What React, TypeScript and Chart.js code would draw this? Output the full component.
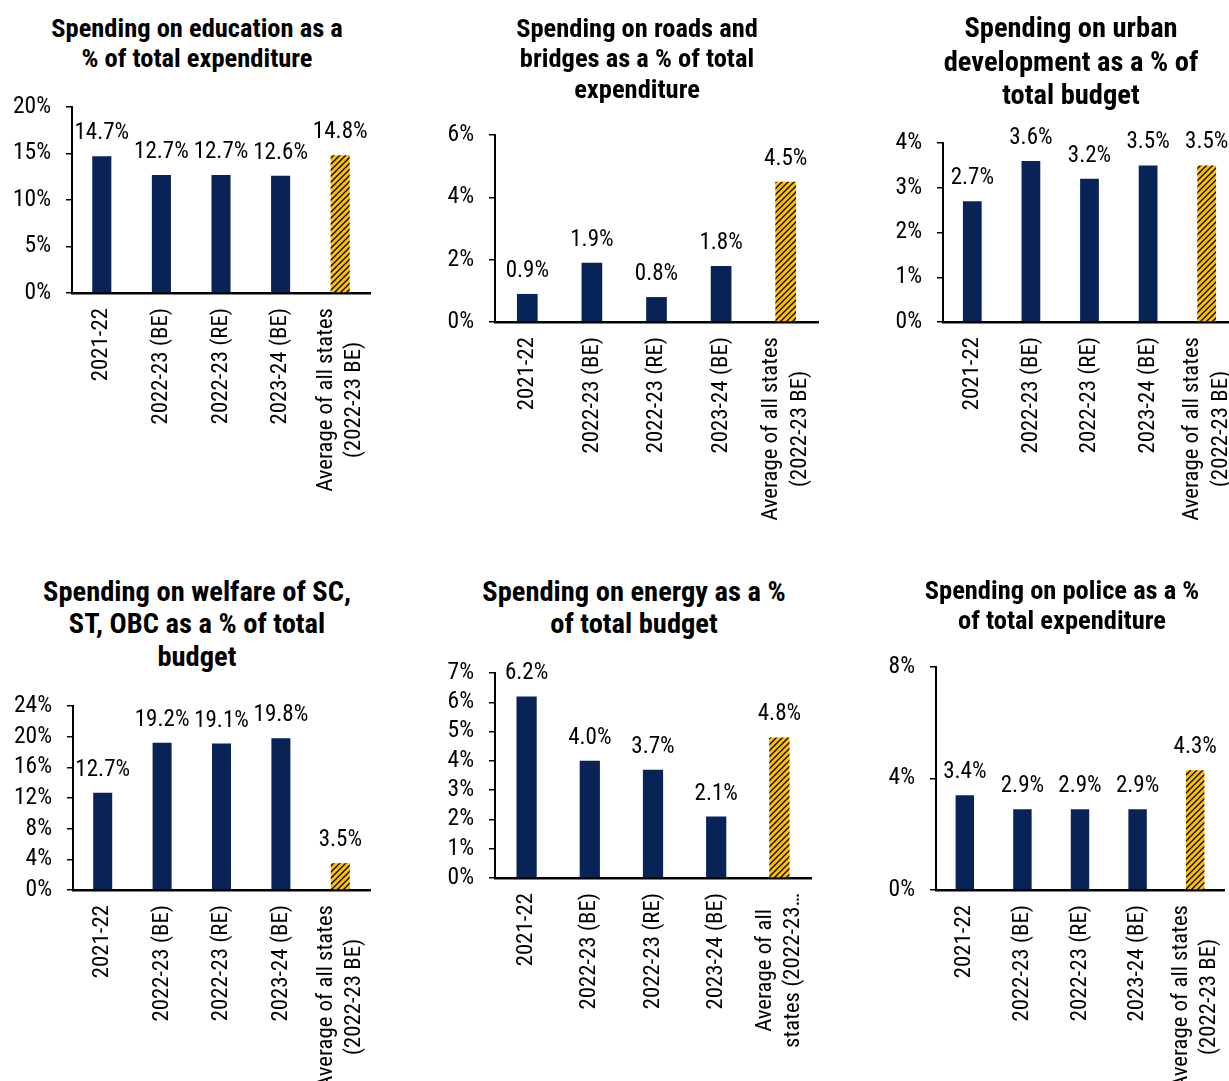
import React, { useEffect, useRef } from 'react';
import { Chart, registerables } from 'chart.js';

Chart.register(...registerables);

// ---------- data ----------
const categories: (string | string[])[] = ['2021-22', '2022-23 (BE)', '2022-23 (RE)', '2023-24 (BE)', ['Average of all states', '(2022-23 BE)']];
const categoriesEnergy: (string | string[])[] = ['2021-22', '2022-23 (BE)', '2022-23 (RE)', '2023-24 (BE)', ['Average of all', 'states (2022-23…']];

const educationValues = [14.7, 12.7, 12.7, 12.6, 14.8];
const roadsValues = [0.9, 1.9, 0.8, 1.8, 4.5];
const urbanValues = [2.7, 3.6, 3.2, 3.5, 3.5];
const welfareValues = [12.7, 19.2, 19.1, 19.8, 3.5];
const energyValues = [6.2, 4.0, 3.7, 2.1, 4.8];
const policeValues = [3.4, 2.9, 2.9, 2.9, 4.3];

const educationTicks = [0, 5, 10, 15, 20];
const roadsTicks = [0, 2, 4, 6];
const urbanTicks = [0, 1, 2, 3, 4];
const welfareTicks = [0, 4, 8, 12, 16, 20, 24];
const energyTicks = [0, 1, 2, 3, 4, 5, 6, 7];
const policeTicks = [0, 4, 8];

const educationTitle = ['Spending on education as a', '% of total expenditure'];
const roadsTitle = ['Spending on roads and', 'bridges as a % of total', 'expenditure'];
const urbanTitle = ['Spending on urban', 'development as a % of', 'total budget'];
const welfareTitle = ['Spending on welfare of SC,', 'ST, OBC as a % of total', 'budget'];
const energyTitle = ['Spending on energy as a %', 'of total budget'];
const policeTitle = ['Spending on police as a %', 'of total expenditure'];

// ---------- styling / layout ----------
const FONT = "'Roboto Condensed', 'Liberation Sans Narrow', 'Arial Narrow', sans-serif";
const NAVY = '#082456';
const GOLD = '#FFC000';
const X_LABEL_SIZE = 22.8;
const X_LABEL_LINE = 28.5;
const X_LABEL_GAP = 15;

type PanelCfg = {
  title: string[];
  titleSize: number;
  titleLine: number;
  titleCX: number;
  titleY: number;
  axisX: number;
  axisR: number;
  yTop: number;
  yBot: number;
  values: number[];
  ticks: number[];
  cats: (string | string[])[];
};

const panels: PanelCfg[] = [
  { title: educationTitle, titleSize: 26.5, titleLine: 30, titleCX: 197, titleY: 28, axisX: 72, axisR: 370, yTop: 107, yBot: 293, values: educationValues, ticks: educationTicks, cats: categories },
  { title: roadsTitle, titleSize: 26.5, titleLine: 30.5, titleCX: 637, titleY: 28, axisX: 495, axisR: 818, yTop: 135, yBot: 322, values: roadsValues, ticks: roadsTicks, cats: categories },
  { title: urbanTitle, titleSize: 28.5, titleLine: 33.5, titleCX: 1071, titleY: 28, axisX: 943, axisR: 1236, yTop: 143, yBot: 322, values: urbanValues, ticks: urbanTicks, cats: categories },
  { title: welfareTitle, titleSize: 28.5, titleLine: 32.5, titleCX: 197, titleY: 592, axisX: 73, axisR: 370, yTop: 706, yBot: 890, values: welfareValues, ticks: welfareTicks, cats: categories },
  { title: energyTitle, titleSize: 28.5, titleLine: 31.5, titleCX: 634, titleY: 592, axisX: 495, axisR: 811, yTop: 673, yBot: 878, values: energyValues, ticks: energyTicks, cats: categoriesEnergy },
  { title: policeTitle, titleSize: 26.5, titleLine: 30, titleCX: 1062, titleY: 590, axisX: 936, axisR: 1224, yTop: 667, yBot: 890, values: policeValues, ticks: policeTicks, cats: categories },
];

function makePattern(): CanvasPattern | string {
  const c = document.createElement('canvas');
  c.width = 6;
  c.height = 6;
  const g = c.getContext('2d');
  if (!g) return GOLD;
  g.fillStyle = GOLD;
  g.fillRect(0, 0, 6, 6);
  g.strokeStyle = '#000';
  g.lineWidth = 1.3;
  g.beginPath();
  g.moveTo(-1, 7);
  g.lineTo(7, -1);
  g.moveTo(-1, 1);
  g.lineTo(1, -1);
  g.moveTo(5, 7);
  g.lineTo(7, 5);
  g.stroke();
  return g.createPattern(c, 'repeat') || GOLD;
}

// value labels above each bar
const labelPlugin = {
  id: 'barLabels',
  afterDatasetsDraw(chart: any) {
    const ctx = chart.ctx as CanvasRenderingContext2D;
    const meta = chart.getDatasetMeta(0);
    const ds = chart.data.datasets[0];
    ctx.save();
    ctx.font = `23px ${FONT}`;
    ctx.fillStyle = '#000';
    ctx.textAlign = 'center';
    ctx.textBaseline = 'alphabetic';
    meta.data.forEach((el: any, i: number) => {
      ctx.fillText(Number(ds.data[i]).toFixed(1) + '%', el.x, el.y - 17);
    });
    ctx.restore();
  },
};

// rotated category labels; multi-line labels centred on their tick, lines centre-aligned
const xLabelPlugin = {
  id: 'xLabels',
  afterDraw(chart: any) {
    const s = chart.scales.x;
    const ctx = chart.ctx as CanvasRenderingContext2D;
    ctx.save();
    ctx.font = `${X_LABEL_SIZE}px ${FONT}`;
    ctx.fillStyle = '#000';
    ctx.textAlign = 'center';
    ctx.textBaseline = 'middle';
    (chart.data.labels as any[]).forEach((lab, i) => {
      const lines: string[] = Array.isArray(lab) ? lab : [lab];
      const maxW = Math.max(...lines.map((ln) => ctx.measureText(ln).width));
      const x = s.getPixelForTick(i);
      const y = s.top + X_LABEL_GAP;
      lines.forEach((ln, j) => {
        const off = (j - (lines.length - 1) / 2) * X_LABEL_LINE;
        ctx.save();
        ctx.translate(x + off, y);
        ctx.rotate(-Math.PI / 2);
        ctx.fillText(ln, -maxW / 2, 0);
        ctx.restore();
      });
    });
    ctx.restore();
  },
};

const PAD_L = 90;
const PAD_T = 50;
const PAD_R = 70;
const X_H = 230;

function Panel({ p }: { p: PanelCfg }) {
  const ref = useRef<HTMLCanvasElement>(null);
  const w = p.axisR - p.axisX + PAD_L + PAD_R;
  const h = p.yBot - p.yTop + PAD_T + X_H;

  useEffect(() => {
    if (!ref.current) return;
    const pattern = makePattern();
    const colors = p.values.map((_, i) => (i === p.values.length - 1 ? pattern : NAVY));
    const maxTick = p.ticks[p.ticks.length - 1];
    const chart = new Chart(ref.current, {
      type: 'bar',
      data: {
        labels: p.cats as any,
        datasets: [
          {
            data: p.values,
            backgroundColor: colors as any,
            borderWidth: 0,
            barPercentage: 0.32,
            categoryPercentage: 1,
          },
        ],
      },
      options: {
        responsive: false,
        animation: false,
        layout: { padding: { left: 0, top: PAD_T, right: PAD_R, bottom: 0 } },
        plugins: {
          legend: { display: false },
          tooltip: { enabled: false },
          title: { display: false },
        },
        scales: {
          x: {
            grid: { display: true, drawOnChartArea: false, drawTicks: false },
            border: { display: true, color: '#000', width: 2.5 },
            ticks: { display: false, autoSkip: false },
            afterFit: (s: any) => {
              s.height = X_H;
            },
          },
          y: {
            min: 0,
            max: maxTick,
            grid: { display: true, drawOnChartArea: false, drawTicks: true, tickLength: 6, color: '#000', lineWidth: 1.5 },
            border: { display: true, color: '#000', width: 2 },
            ticks: {
              autoSkip: false,
              padding: 15,
              color: '#000',
              font: { family: FONT, size: 23.5 },
              callback: (v: any) => v + '%',
            },
            afterBuildTicks: (s: any) => {
              s.ticks = p.ticks.map((v) => ({ value: v }));
            },
            afterFit: (s: any) => {
              s.width = PAD_L;
            },
          },
        },
      },
      plugins: [labelPlugin, xLabelPlugin],
    });
    return () => chart.destroy();
  }, [p]);

  return (
    <>
      <div
        style={{
          position: 'absolute',
          left: p.titleCX - 250,
          width: 500,
          top: p.titleY - p.titleLine / 2,
          textAlign: 'center',
          fontFamily: FONT,
          fontWeight: 'bold',
          fontSize: p.titleSize,
          lineHeight: `${p.titleLine}px`,
          color: '#000',
        }}
      >
        {p.title.map((t, i) => (
          <div key={i}>{t}</div>
        ))}
      </div>
      <canvas
        ref={ref}
        width={w}
        height={h}
        style={{ position: 'absolute', left: p.axisX - PAD_L, top: p.yTop - PAD_T, width: w, height: h }}
      />
    </>
  );
}

export default function App() {
  return (
    <div
      style={{
        position: 'fixed',
        left: 0,
        top: 0,
        width: 1229,
        height: 1081,
        overflow: 'hidden',
        background: '#fff',
      }}
    >
      {panels.map((p, i) => (
        <Panel key={i} p={p} />
      ))}
    </div>
  );
}
